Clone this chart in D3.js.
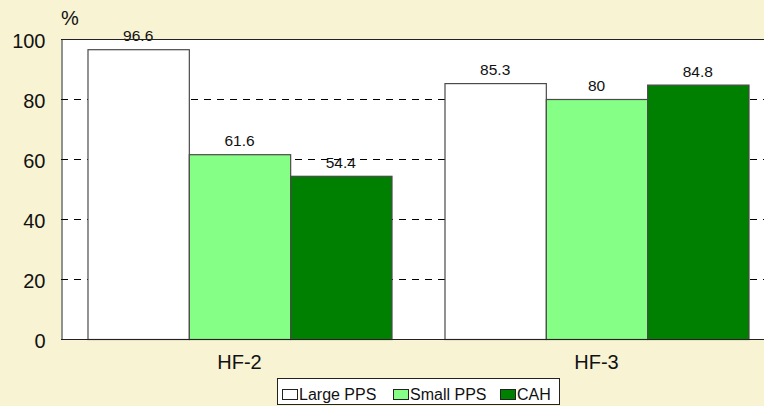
<!DOCTYPE html>
<html><head><meta charset="utf-8">
<script src="https://cdn.jsdelivr.net/npm/d3@7"></script>
<style>body{margin:0;background:#F8F3D3;}svg{display:block;font-family:Arial,"Liberation Sans",sans-serif;}</style>
</head><body>
<svg id="c" width="764" height="406"></svg>
<script>
const categories = ["HF-2", "HF-3"];
const seriesNames = ["Large PPS", "Small PPS", "CAH"];
const largePPS = [96.6, 85.3];
const smallPPS = [61.6, 80];
const cah = [54.4, 84.8];
const yTicks = [0, 20, 40, 60, 80, 100];
const colors = ["#FFFFFF", "#86FF86", "#008000"];
const series = [largePPS, smallPPS, cah];

(function () {
const FF = "Arial,'Liberation Sans',sans-serif";
const svg = d3.select("#c");
const pLeft = 61, pTop = 39, pBottom = 339, pRight = 775;
const x = d3.scaleBand().domain(categories).range([pLeft, pRight]).paddingInner(0).paddingOuter(0);
const inner = d3.scaleBand().domain(seriesNames).range([26.5, x.bandwidth() - 26.5]).padding(0);
const y = d3.scaleLinear().domain([0, 100]).range([pBottom, pTop]);

svg.append("rect").attr("x", pLeft).attr("y", pTop).attr("width", pRight - pLeft).attr("height", pBottom - pTop).attr("fill", "#fff");

svg.append("g").selectAll("line").data(yTicks.filter(d => d > 0)).join("line")
  .attr("x1", pLeft).attr("x2", pRight).attr("y1", d => y(d) + 0.5).attr("y2", d => y(d) + 0.5)
  .attr("stroke", "#000").attr("stroke-dasharray", "7,6");

const g = svg.append("g");
categories.forEach((c, i) => {
  seriesNames.forEach((s, j) => {
    const v = series[j][i];
    g.append("rect")
      .attr("x", x(c) + inner(s) + 0.5).attr("y", y(v) + 0.5)
      .attr("width", inner.bandwidth()).attr("height", pBottom - y(v))
      .attr("fill", colors[j]).attr("stroke", "#4a4a4a").attr("stroke-width", 1.2);
    g.append("text").attr("x", x(c) + inner(s) + inner.bandwidth() / 2).attr("y", y(v) - 8)
      .attr("text-anchor", "middle").attr("font-size", 15.5).attr("font-family", FF).attr("fill", "#111").text(v);
  });
});

const yAxis = d3.axisLeft(y).tickValues(yTicks).tickSize(0).tickPadding(16);
const ya = svg.append("g").attr("transform", `translate(${pLeft + 0.5},0.5)`).call(yAxis);
ya.select(".domain").attr("stroke", "#222");
ya.selectAll("text").attr("font-size", 20).attr("fill", "#111").attr("font-family", FF).attr("dy", "0.38em");

svg.append("line").attr("x1", pLeft).attr("x2", pRight).attr("y1", pBottom + 0.5).attr("y2", pBottom + 0.5).attr("stroke", "#222");
svg.append("line").attr("x1", pLeft).attr("x2", pRight).attr("y1", pTop + 0.5).attr("y2", pTop + 0.5).attr("stroke", "#222");

const xAxis = d3.axisBottom(x).tickSize(0).tickPadding(0);
const xa = svg.append("g").attr("transform", `translate(0,${pBottom})`).call(xAxis);
xa.select(".domain").remove();
xa.selectAll("text").attr("font-size", 20).attr("fill", "#111").attr("font-family", FF).attr("dy", null).attr("y", 30);

svg.append("text").attr("x", 61).attr("y", 25).attr("font-size", 20).attr("font-family", FF).attr("fill", "#111").text("%");

const lg = svg.append("g");
lg.append("rect").attr("x", 277.5).attr("y", 378.5).attr("width", 282).attr("height", 26).attr("fill", "#fff").attr("stroke", "#222");
const lx = [282, 393, 500];
seriesNames.forEach((s, j) => {
  lg.append("rect").attr("x", lx[j] + 0.5).attr("y", 389.5).attr("width", 15).attr("height", 10).attr("fill", colors[j]).attr("stroke", "#222");
  lg.append("text").attr("x", lx[j] + 17).attr("y", 399.5).attr("font-size", 16).attr("font-family", FF).attr("fill", "#111").text(s);
});
})();
</script>
</body></html>
